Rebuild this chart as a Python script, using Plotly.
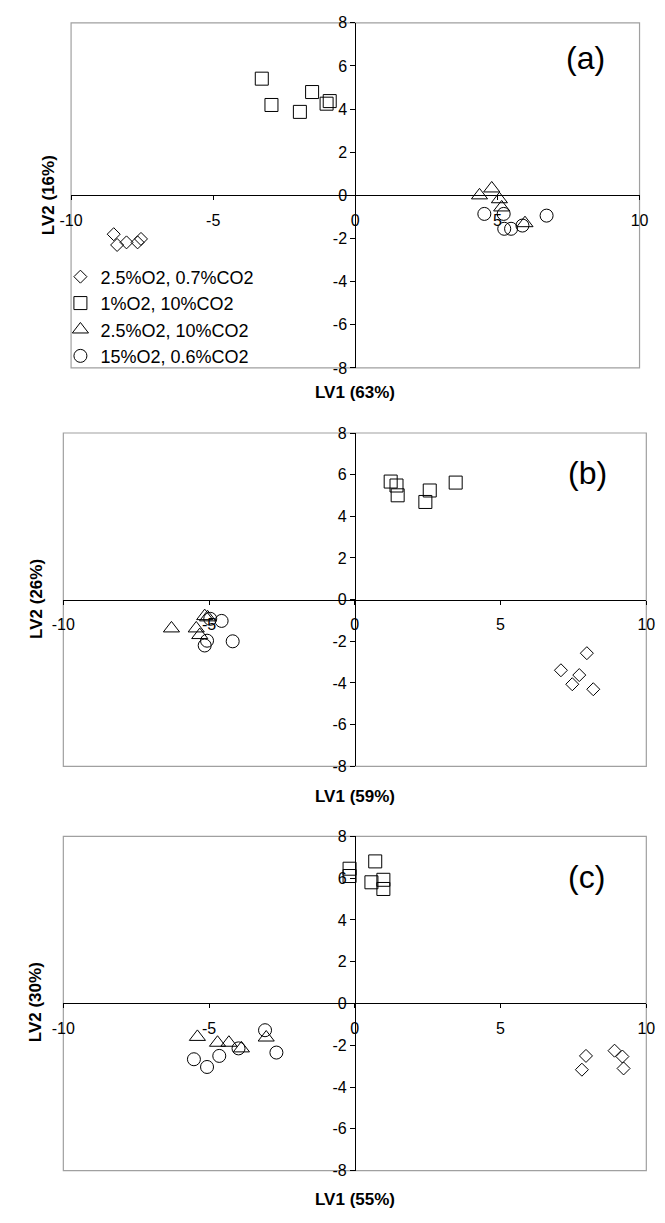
import plotly.graph_objects as go

W, H = 665, 1223

# ---------------- data ----------------
series_names = ["2.5%O2, 0.7%CO2", "1%O2, 10%CO2", "2.5%O2, 10%CO2", "15%O2, 0.6%CO2"]
symbols = ["diamond-open", "square-open", "triangle-up-open", "circle-open"]
marker_sizes = [10, 13, 14, 13]

# panel (a)
a_dia_x = [-8.50, -8.38, -8.05, -7.66, -7.54]
a_dia_y = [-1.80, -2.30, -2.18, -2.18, -2.02]
a_sq_x = [-3.29, -2.95, -1.95, -1.52, -1.01, -0.90]
a_sq_y = [5.41, 4.19, 3.87, 4.79, 4.25, 4.37]
a_tri_x = [4.37, 4.80, 5.07, 5.15, 5.97]
a_tri_y = [0.00, 0.32, -0.18, -0.56, -1.29]
a_cir_x = [4.54, 5.22, 5.24, 5.48, 5.88, 6.73]
a_cir_y = [-0.86, -0.86, -1.55, -1.55, -1.40, -0.94]

# panel (b)
b_dia_x = [7.96, 7.07, 7.70, 7.46, 8.18]
b_dia_y = [-2.57, -3.39, -3.62, -4.06, -4.30]
b_sq_x = [1.23, 1.43, 1.47, 2.42, 2.57, 3.46]
b_sq_y = [5.67, 5.48, 5.01, 4.69, 5.24, 5.62]
b_tri_x = [-6.29, -5.15, -5.05, -5.44, -5.32]
b_tri_y = [-1.38, -0.79, -0.85, -1.38, -1.70]
b_cir_x = [-4.57, -4.96, -5.07, -5.15, -4.19]
b_cir_y = [-1.02, -0.92, -1.97, -2.20, -2.00]

# panel (c)
c_dia_x = [7.93, 7.79, 8.91, 9.18, 9.22]
c_dia_y = [-2.51, -3.17, -2.26, -2.54, -3.11]
c_sq_x = [-0.18, -0.18, 0.70, 0.57, 0.98, 0.98]
c_sq_y = [6.45, 6.10, 6.80, 5.80, 5.92, 5.48]
c_tri_x = [-5.40, -4.71, -4.32, -3.89, -3.04]
c_tri_y = [-1.60, -1.88, -1.88, -2.15, -1.63]
c_cir_x = [-5.52, -5.07, -4.65, -3.99, -3.08, -2.69]
c_cir_y = [-2.67, -3.04, -2.51, -2.15, -1.28, -2.35]

panel_labels = ["(a)", "(b)", "(c)"]
x_titles = ["LV1 (63%)", "LV1 (59%)", "LV1 (55%)"]
y_titles = ["LV2 (16%)", "LV2 (26%)", "LV2 (30%)"]

x_range = [-10, 10]
y_range = [-8, 8]
x_tickvals = [-10, -5, 0, 5, 10]
y_tickvals = [-8, -6, -4, -2, 0, 2, 4, 6, 8]

panels = [
    [(a_dia_x, a_dia_y), (a_sq_x, a_sq_y), (a_tri_x, a_tri_y), (a_cir_x, a_cir_y)],
    [(b_dia_x, b_dia_y), (b_sq_x, b_sq_y), (b_tri_x, b_tri_y), (b_cir_x, b_cir_y)],
    [(c_dia_x, c_dia_y), (c_sq_x, c_sq_y), (c_tri_x, c_tri_y), (c_cir_x, c_cir_y)],
]

# ---------------- layout (pixel boxes) ----------------
boxes = [  # left, right, top, bottom in pixels
    (61, 648, 15, 365),
    (53, 655, 431, 769),
    (53, 655, 840, 1179),
]
label_pos = [(592, 51), (594, 472), (593, 881)]
xtitle_pos = [(354, 390), (354, 800), (354, 1208)]
ytitle_pos = [(38, 190), (25, 599), (25, 1008)]

def px(x):
    return x / W

def py(y):
    return 1 - y / H

FONT = "Arial, Liberation Sans, sans-serif"

fig = go.Figure()
layout = dict(
    width=W, height=H,
    margin=dict(l=0, r=0, t=0, b=0),
    paper_bgcolor="white", plot_bgcolor="white",
    font=dict(family=FONT, color="black"),
    showlegend=True,
    legend=dict(
        x=px(50), y=py(254), xanchor="left", yanchor="top",
        bgcolor="rgba(0,0,0,0)", font=dict(size=18, family=FONT, color="black"),
        itemwidth=30, tracegroupgap=0,
    ),
)
shapes = []
annotations = []

for i, (data, box) in enumerate(zip(panels, boxes)):
    L, R, T, B = box
    xd = [px(L), px(R)]
    yd = [py(B), py(T)]
    xa = "xaxis" if i == 0 else f"xaxis{i+1}"
    ya = "yaxis" if i == 0 else f"yaxis{i+1}"
    xr = "x" if i == 0 else f"x{i+1}"
    yr = "y" if i == 0 else f"y{i+1}"
    for j, (xs, ys) in enumerate(data):
        fig.add_trace(go.Scatter(
            x=xs, y=ys, mode="markers", xaxis=xr, yaxis=yr,
            name=series_names[j], legendgroup=series_names[j],
            showlegend=(i == 0),
            marker=dict(symbol=symbols[j], size=marker_sizes[j], color="black",
                        line=dict(color="black", width=1)),
        ))
    layout[xa] = dict(
        domain=xd, range=x_range, anchor="free",
        position=(yd[0] + yd[1]) / 2,
        tickvals=x_tickvals, ticktext=[str(v) for v in x_tickvals],
        showline=True, linecolor="black", linewidth=1,
        ticks="outside", ticklen=4, tickcolor="black",
        ticklabelstandoff=6,
        showgrid=False, zeroline=False,
        tickfont=dict(size=16, family=FONT, color="black"),
        fixedrange=True,
    )
    layout[ya] = dict(
        domain=yd, range=y_range, anchor="free",
        position=(xd[0] + xd[1]) / 2,
        tickvals=y_tickvals, ticktext=[str(v) for v in y_tickvals],
        showline=True, linecolor="black", linewidth=1,
        ticks="outside", ticklen=5, tickcolor="black",
        showgrid=False, zeroline=False,
        tickfont=dict(size=16, family=FONT, color="black"),
        fixedrange=True,
    )
    shapes.append(dict(
        type="rect", xref="paper", yref="paper",
        x0=xd[0], x1=xd[1], y0=yd[0], y1=yd[1],
        line=dict(color="#a0a0a0", width=1.2), layer="below",
    ))
    lx, ly = label_pos[i]
    annotations.append(dict(
        text=panel_labels[i], x=px(lx), y=py(ly), xref="paper", yref="paper",
        showarrow=False, xanchor="center", yanchor="middle",
        font=dict(size=32, family=FONT, color="black"),
    ))
    tx, ty = xtitle_pos[i]
    annotations.append(dict(
        text="<b>" + x_titles[i] + "</b>", x=px(tx), y=py(ty), xref="paper", yref="paper",
        showarrow=False, xanchor="center", yanchor="middle",
        font=dict(size=17, family=FONT, color="black"),
    ))
    sx, sy = ytitle_pos[i]
    annotations.append(dict(
        text="<b>" + y_titles[i] + "</b>", x=px(sx), y=py(sy), xref="paper", yref="paper",
        showarrow=False, xanchor="center", yanchor="middle", textangle=-90,
        font=dict(size=17, family=FONT, color="black"),
    ))

layout["shapes"] = shapes
layout["annotations"] = annotations
fig.update_layout(**layout)
fig.write_html("out.html")
